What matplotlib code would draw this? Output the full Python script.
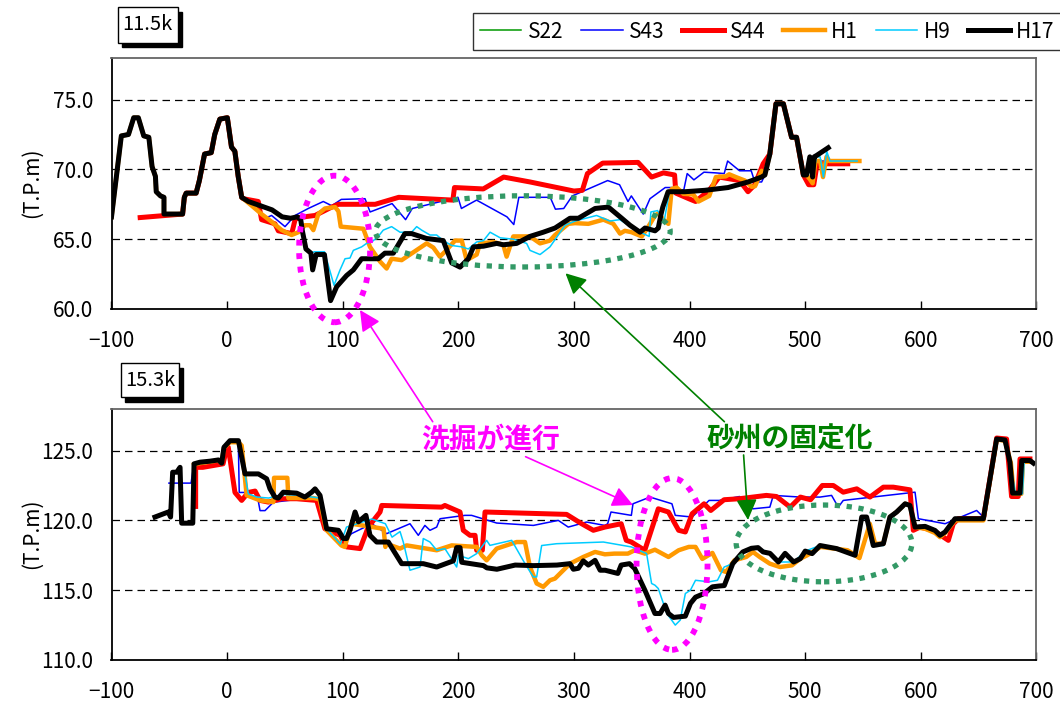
import matplotlib
matplotlib.use('Agg')
import matplotlib.pyplot as plt
from matplotlib.patches import Ellipse, FancyArrowPatch, Rectangle

plt.rcParams['font.family'] = ['Noto Sans CJK JP', 'DejaVu Sans']
plt.rcParams['axes.unicode_minus'] = True

# ---- 11.5k (上段) ----
# 左岸の共通部分
top_bank_x = [-100, -91.5, -85.3, -80.8, -76.8, -72.1, -67.7, -64.9, -62, -61.3, -57.6, -54.6, -54.6,
              -38.5, -37.0, -35.4, -26.8, -24, -19.5, -13.7, -10.7, -6.3, 0.2, 3.8, 6.7, 9.6, 12.6]
top_bank_y = [66.6, 72.4, 72.5, 73.7, 73.7, 72.4, 72.3, 70.2, 69.5, 68.4, 68.1, 68.0, 66.8,
              66.8, 68.0, 68.3, 68.3, 69.2, 71.1, 71.2, 72.5, 73.6, 73.7, 71.6, 71.3, 69.5, 68.0]
# 右岸の山
top_peak_x = [465.2, 469.5, 474.8, 481.2, 488.3, 492.6, 498.5]
top_peak_y = [69.6, 71.1, 74.7, 74.7, 72.3, 72.3, 69.6]

t_h17_mid_x = [18.4, 28.7, 38.9, 47.6, 54.9, 60.7, 63.7, 65.1, 68.2, 72.5, 74, 77, 84.2, 89.5, 94.8,
               103.4, 109.2, 116.4, 130.8, 136.5, 143.8, 153.8, 159.6, 172.6, 187.0, 194.3, 201.5,
               208.7, 213.1, 221.8, 233.2, 238.9, 250.5, 262.0, 273.5, 283.7, 296.6, 303.9, 318.3,
               329.8, 341.4, 348.5, 357.2, 361.5, 370.2, 373.0, 375.4, 376.9, 381.5, 395.9, 413.2,
               433.4, 450.7, 462.3]
t_h17_mid_y = [67.7, 67.4, 67.1, 66.6, 66.5, 66.6, 66.4, 65.6, 64.3, 64.0, 62.8, 63.9, 63.9, 60.6, 61.6,
               62.4, 62.8, 63.6, 63.6, 64.0, 64.0, 65.4, 65.4, 65.05, 64.9, 63.3, 63.0,
               63.6, 64.45, 64.5, 64.7, 64.6, 64.7, 65.2, 65.5, 65.8, 66.5, 66.5, 67.2,
               67.3, 66.5, 66.0, 65.5, 65.8, 65.6, 65.8, 66.8, 67.3, 68.4, 68.4, 68.5,
               68.7, 69.1, 69.45]
t_h17_end_x = [501.2, 504.1, 506.5, 507.9, 510, 520]
t_h17_end_y = [69.6, 70.9, 69.45, 70.9, 71.0, 71.55]

t_s44_mid_x = [14.0, 27.0, 29.8, 41.4, 44.3, 55.9, 58.8, 61.7, 76.1, 90.5, 96.3, 128.1, 148.5, 195.3,
               196.7, 221.6, 239.2, 262, 300, 307.3, 311.7, 324.9, 355.5, 367.2, 377.4, 387.1, 388.2,
               399.4, 405.3, 417, 425.7, 443.3, 450.6, 456.5, 463.7]
t_s44_mid_y = [67.9, 67.7, 66.4, 66.1, 65.6, 65.4, 66.4, 66.55, 66.7, 67.3, 67.5, 67.5, 68.0, 67.8,
               68.7, 68.6, 69.45, 69.1, 68.45, 68.5, 69.7, 70.45, 70.5, 69.45, 69.75, 69.6, 68.3,
               67.9, 67.7, 68.5, 69.45, 69.2, 68.4, 68.9, 70.4]
t_s44_end_x = [503.1, 507.5, 510.4, 536.9]
t_s44_end_y = [68.9, 68.9, 70.4, 70.4]

t_s43_mid_x = [15.4, 32.7, 38.5, 50.1, 58.8, 70.2, 83.2, 90.5, 98.8, 119.3, 123.7, 142.7, 154.4, 160.2,
               199.7, 202.7, 215.8, 242.1, 248, 252.4, 262, 279.5, 284, 291.2, 298.6, 329.2, 339.5,
               346.8, 349.7, 360, 365.8, 379, 384.9, 395, 398, 403.8, 412.5, 422.8, 430, 433, 443.3,
               453.4, 456.5, 462.4]
t_s43_mid_y = [67.9, 66.5, 66.7, 65.9, 66.7, 67.2, 67.7, 67.4, 67.85, 67.9, 66.95, 67.55, 66.4, 67.2,
               68.0, 67.2, 67.8, 66.6, 66.05, 68.0, 68.0, 68.0, 67.15, 67.2, 68.1, 69.2, 68.9,
               67.7, 68.1, 66.8, 67.9, 68.7, 68.7, 68.5, 69.7, 69.25, 69.8, 69.75, 69.7, 70.6, 69.9,
               69.9, 69.1, 69.1]
t_s43_end_x = [501.2, 504.1, 506.5, 510, 520]
t_s43_end_y = [69.6, 70.9, 69.5, 70.6, 70.6]

t_h1_mid_x = [21.3, 29.8, 38.5, 47.2, 55.8, 61.7, 67.4, 71.7, 74.6, 78.9, 84.6, 93.4, 96.3, 98.3,
              117.8, 123.6, 132.3, 138, 142.3, 151, 172.6, 178.4, 184.1, 188.4, 197.2, 203, 207.2,
              215.9, 218.8, 230.3, 238.9, 241.8, 247.6, 262, 270.7, 279.3, 283.7, 295.2, 301, 312.5,
              325.5, 334.1, 339.9, 344.1, 349.9, 358.7, 364.4, 370.2, 373.1, 377.4, 381.7, 384.6,
              388.9, 394.7, 403.3, 407.8, 417.1, 422.8, 431.4, 434.3, 440.1, 447.9, 453.8, 456.7, 462.5]
t_h1_mid_y = [67.4, 66.8, 66.25, 65.65, 65.3, 65.5, 66.0, 66.0, 65.65, 66.8, 67.2, 67.3, 67.0, 65.9,
              65.75, 64.45, 63.4, 62.9, 63.6, 63.5, 64.7, 64.4, 63.75, 64.1, 64.9, 64.9, 63.5,
              63.9, 64.7, 64.8, 64.6, 63.75, 65.2, 65.2, 64.7, 64.9, 65.3, 66.1, 66.15, 66.1,
              66.4, 66.1, 65.4, 65.6, 65.5, 65.2, 65.9, 66.7, 66.85, 66.4, 66.1, 68.6,
              68.7, 68.25, 68.2, 67.7, 68.1, 69.45, 69.5, 69.65, 69.45, 69.2, 68.75, 68.8, 69.9]
t_h1_end_x = [501.2, 504.1, 506.5, 509, 513, 515.5, 518.5, 521, 547]
t_h1_end_y = [69.6, 69.3, 69.0, 70.6, 70.6, 69.45, 70.9, 70.6, 70.6]

t_h9_mid_x = [75.5, 84.2, 92.5, 97.7, 102, 106.3, 109.2, 116.4, 120.7, 125.1, 130.8, 135.1, 142.3,
              149.6, 159.6, 164, 168.3, 175.5, 181.3, 187, 194.3, 203, 208.7, 215.9, 221.8, 227.5,
              236.2, 247.7, 259.1, 262, 270.7, 279.3, 292.4, 301, 319.6, 331.1, 339.8, 353.6, 365.1,
              366.6, 372.4, 378.1, 382.4, 395.9, 413.2, 433.4, 450.7, 462.3]
t_h9_mid_y = [64.1, 64.1, 61.7, 62.8, 63.6, 63.65, 64.2, 64.45, 64.7, 64.8, 65.2, 65.65, 65.9,
              65.5, 65.5, 65.9, 65.65, 65.3, 65.3, 64.9, 64.55, 64.45, 64.3, 64.8, 64.9, 65.5,
              65.1, 65.0, 64.7, 64.2, 63.9, 64.45, 66.0, 66.3, 66.7, 66.3, 66.4, 65.65, 65.2,
              66.95, 67.05, 66.3, 68.3, 68.4, 68.5, 68.7, 69.1, 69.45]
t_h9_end_x = [501.2, 504.1, 506.5, 509.9, 513, 515.8, 518.7, 521.5, 545]
t_h9_end_y = [69.6, 70.9, 69.5, 70.9, 70.9, 69.45, 71.3, 70.6, 70.6]

# ---- 15.3k (下段) ----
b_h17_x = [-62.4, -50.9, -48.9, -47.1, -43.6, -40.7, -39.3, -29.7, -28.6, -23.4, -14.8, -7.5, -4.7, -2.7,
           2.5, 9.8, 15.5, 27.1, 34.2, 37.1, 41.4, 44.3, 48.6, 60.2, 67.3, 73.2, 76.1, 80.4, 86.1,
           96.3, 100.5, 103.4, 106.3, 110.7, 113.6, 120.1, 123.6, 129.4, 139.5, 143.8, 151, 169.7,
           181.3, 195.7, 198.6, 201.5, 203, 221.8, 224.7, 233.4, 249.2, 265.1, 285.3, 296.6, 299.5,
           303.9, 308.1, 312.5, 318.3, 322.7, 327, 338, 340.9, 348.1, 352.6, 361.4, 370.1, 374.6,
           378.9, 381.8, 386.2, 396.4, 400.8, 405.2, 412.6, 419.8, 425.7, 430.1, 437.4, 446.1, 453.5,
           459.3, 463.7, 469.6, 476.9, 482.7, 490.1, 495.9, 500.1, 506.1, 512.9, 527.3, 543.2, 549,
           553.2, 559, 567.7, 573.4, 579.2, 586.5, 590.7, 595.1, 603.8, 612.4, 616.7, 621.1, 629.7,
           654.2, 665.7, 672.9, 677.2, 679.5, 685.9, 687.4, 694.5, 697.5]
b_h17_y = [120.24, 120.6, 120.24, 123.45, 123.45, 123.8, 119.8, 119.8, 124.05, 124.17, 124.24, 124.33,
           124.1, 125.24, 125.71, 125.71, 123.33, 123.33, 122.98, 122.26, 121.67, 121.6, 122.02, 121.95,
           121.67, 122.02, 122.26, 121.79, 119.4, 119.29, 118.7, 118.7, 119.29, 120.6, 119.9, 120.36,
           118.93, 118.45, 118.45, 117.86, 116.9, 116.9, 116.66, 117.1, 118.05, 118.05, 117.0, 116.76,
           116.6, 116.5, 116.8, 116.76, 116.8, 116.9, 116.5, 116.57, 117.1, 116.8, 117.14, 116.43,
           116.43, 116.2, 116.8, 116.9, 116.55, 115.0, 113.33, 113.33, 113.93, 113.33, 113.05, 113.14,
           114.05, 114.5, 114.76, 115.24, 115.3, 115.33, 116.9, 117.74, 118.0, 118.05, 117.74, 117.64,
           117.02, 117.64, 117.02, 117.26, 117.8, 117.62, 118.2, 117.98, 117.5, 120.24, 120.24, 118.2,
           118.33, 120.24, 120.6, 121.19, 121.07, 119.52, 119.57, 119.28, 118.93, 119.17, 120.12,
           120.12, 125.83, 125.76, 124.17, 121.95, 121.95, 124.29, 124.29, 124.1]

b_s44_x = [-27.2, -27.2, -21, -3.5, 0, 1.0, 6.8, 12.6, 18.3, 24.2, 28.5, 35.7, 47.2, 60.2, 77.5, 84.6,
           97.7, 103.4, 115, 122.1, 132.3, 133.8, 185.6, 188.4, 201.5, 204.3, 210.1, 214.5, 215.9,
           220.8, 223.1, 293.7, 306.7, 316.8, 326.8, 340.9, 345.3, 349.7, 361.3, 373, 381.8, 390.6,
           396.4, 402.3, 412.6, 418.4, 429.9, 443.1, 466.5, 475.3, 487.1, 495.9, 504.7, 514.9, 524.4,
           533, 544.7, 556.1, 567.7, 576.3, 590.7, 593.6, 599.4, 610.9, 623.9, 628.2, 632.6, 654.2,
           665.7, 674.3, 678.6, 684.4, 685.9, 694.5]
b_s44_y = [121.0, 123.8, 123.8, 124.05, 125.3, 125.24, 122.0, 121.43, 122.0, 122.1, 121.43, 121.31,
           121.55, 121.55, 121.43, 119.4, 118.93, 118.1, 117.98, 119.52, 120.6, 121.07, 120.95, 121.07,
           120.6, 119.29, 118.93, 118.93, 117.86, 117.86, 120.6, 120.43, 119.76, 119.29, 119.52, 119.76,
           118.57, 118.45, 117.86, 120.83, 120.6, 119.29, 119.17, 120.48, 121.19, 120.71, 121.48,
           121.55, 121.79, 121.71, 120.95, 121.67, 121.48, 122.5, 122.5, 122.02, 122.26, 121.67,
           122.38, 122.38, 122.19, 119.29, 119.52, 119.29, 118.57, 119.76, 120.12, 120.12, 125.9,
           125.83, 121.71, 121.71, 124.4, 124.4]

b_s43_x = [-50.3, -31.2, -28.6, -23.4, -14.8, -7.5, -4.7, -2.7, 2.5, 9.7, 10.5, 25.6, 28.5, 32.8, 40,
           60.2, 80.4, 86, 98.8, 101.8, 107.6, 125.2, 138, 158.2, 165.4, 171.1, 175.5, 181.3, 184.2,
           205.7, 211.5, 233.2, 264.9, 286.5, 295.1, 310.9, 326.8, 329.2, 332.1, 349.7, 351.1, 365.8,
           384.8, 387.7, 402.3, 416.9, 425.7, 443.3, 454.9, 469.5, 472.5, 495.9, 512.9, 522.9, 528.7,
           533, 595.1, 598, 621.1, 631.1, 648.4, 655.7, 665.7, 672.9, 677.2, 679.5, 685.9, 687.4, 694.5]
b_s43_y = [122.67, 122.67, 124.05, 124.17, 124.24, 124.33, 124.1, 125.24, 125.6, 125.6, 122.0, 122.0,
           120.7, 120.7, 121.3, 121.5, 121.45, 119.4, 119.05, 118.45, 119.05, 119.76, 119.05, 119.76,
           118.93, 119.64, 119.29, 119.52, 120.12, 120.36, 120.36, 119.81, 119.64, 120.0, 119.52,
           119.88, 119.64, 119.76, 120.6, 120.36, 121.19, 121.67, 121.19, 120.36, 120.24, 121.43,
           121.43, 121.71, 120.83, 120.95, 121.79, 121.67, 121.67, 121.79, 120.95, 121.43, 122.02,
           120.12, 119.76, 120.12, 120.71, 120.12, 125.83, 125.76, 124.17, 121.95, 121.95, 124.29, 124.29]

b_h1_x = [-28.6, -23.4, -14.8, -7.5, -4.7, -2.7, 2.5, 9.8, 12.6, 16.9, 28.5, 40, 40.6, 52.1, 53, 75, 80,
          85.7, 98.9, 101.8, 107.6, 135.4, 136.9, 138, 149.6, 155.3, 181.3, 194.3, 215.9, 220.3, 224.5,
          233.2, 250.5, 257.7, 262, 267.8, 273.5, 279.3, 283.6, 289.4, 296.6, 308.1, 318.3, 326.8, 335,
          346.7, 352.6, 361.4, 370.1, 381.8, 390.6, 399.4, 405.2, 411.1, 419.8, 427.2, 431.5, 438.9,
          449.1, 454.9, 460.7, 469.5, 478.3, 488.6, 495.9, 501.8, 513.4, 536.8, 547, 556, 560.5, 567.7,
          573.4, 579.2, 586.5, 590.7, 595.1, 603.8, 612.4, 616.7, 621.1, 629.7, 654.2, 665.7, 672.9,
          678, 680.5, 687, 688.5, 695]
b_h1_y = [124.0, 124.1, 124.2, 124.3, 124.1, 125.2, 125.6, 125.6, 125.36, 121.8, 121.43, 121.31, 123.05,
          123.05, 121.6, 121.6, 121.5, 119.33, 118.2, 118.1, 119.76, 119.4, 118.1, 118.33, 117.98,
          118.21, 117.86, 118.21, 118.1, 117.5, 117.14, 117.98, 118.45, 118.45, 116.66, 115.48, 115.24,
          115.71, 115.83, 116.31, 116.9, 117.38, 117.74, 117.57, 117.62, 117.62, 117.86, 117.62, 117.9,
          117.38, 117.86, 118.1, 118.1, 117.24, 117.67, 116.43, 116.31, 117.14, 117.38, 117.74, 117.38,
          116.9, 116.66, 116.78, 117.26, 117.5, 118.1, 117.86, 117.3, 119.76, 118.33, 118.33, 120.24,
          120.6, 121.19, 121.07, 119.52, 119.4, 119.1, 118.8, 119.1, 120.0, 120.0, 125.8, 125.7, 124.1,
          121.9, 121.9, 124.2, 124.2]

b_h9_x = [-28.6, -23.4, -14.8, -7.5, -4.7, -2.7, 2.5, 9.8, 14, 18.4, 25.8, 36, 48, 62, 80, 86, 98, 103.3,
          125.2, 136.9, 142.7, 149.6, 152.4, 158.2, 166.9, 169.7, 175.5, 181.3, 188.4, 198.6, 200.1,
          208.7, 215.9, 224.5, 227.4, 246.2, 257.7, 264.9, 267.8, 272.1, 285.1, 325.5, 349.7, 362.9,
          367.2, 370.1, 373, 380.4, 387.7, 392, 396.4, 400.8, 405.2, 416.9, 424.2, 430, 437.4, 446.1,
          453.5, 459.3, 469.6, 476.9, 490.1, 500.1, 512.9, 527.3, 543.2, 549, 553.2, 559, 567.7, 573.4,
          579.2, 586.5, 590.7, 595.1, 603.8, 612.4, 616.7, 621.1, 629.7, 654.2, 665.7, 672.9, 677.5,
          682, 688, 689.5, 695.5]
b_h9_y = [124.0, 124.1, 124.2, 124.3, 124.1, 125.2, 125.6, 125.6, 124.0, 121.9, 121.67, 121.6, 121.86,
          121.8, 121.6, 119.4, 118.3, 119.52, 120.1, 119.76, 118.8, 119.2, 118.45, 116.43, 116.66, 118.7,
          118.45, 117.86, 117.98, 116.66, 117.5, 117.26, 117.62, 118.57, 118.21, 118.57, 116.9, 115.95,
          115.95, 118.2, 118.33, 118.45, 118.1, 117.62, 115.48, 115.36, 115.12, 113.33, 112.5, 112.86,
          114.76, 115.0, 115.71, 115.6, 115.71, 116.66, 116.9, 117.74, 118.0, 118.05, 117.64, 117.02,
          117.02, 117.8, 118.2, 117.98, 117.5, 120.1, 120.1, 118.2, 118.2, 120.24, 120.6, 121.19,
          121.07, 119.52, 119.5, 119.2, 118.9, 119.1, 120.1, 120.1, 125.8, 125.7, 124.1, 121.9, 121.9,
          124.2, 124.2]

b_s22_x = [629.7, 654.2, 665.7, 672.9, 677.2, 679.5, 685.9, 687.4, 694.5]
b_s22_y = [120.12, 120.12, 125.83, 125.76, 124.17, 121.95, 121.95, 124.29, 124.29]

names = ['S22', 'S43', 'S44', 'H1', 'H9', 'H17']
colors = ['#009900', '#0000FF', '#FF0000', '#FF9900', '#00CCFF', '#000000']
widths = [1.1, 1.1, 3.6, 3.2, 1.1, 3.6]

top = {
    'S22': (top_bank_x, top_bank_y),
    'S43': (top_bank_x[13:] + t_s43_mid_x + top_peak_x + t_s43_end_x,
            top_bank_y[13:] + t_s43_mid_y + top_peak_y + t_s43_end_y),
    'S44': ([-75.2] + top_bank_x[13:] + t_s44_mid_x + top_peak_x[1:] + t_s44_end_x,
            [66.55] + top_bank_y[13:] + t_s44_mid_y + top_peak_y[1:] + t_s44_end_y),
    'H1': (top_bank_x + t_h1_mid_x + top_peak_x + t_h1_end_x,
           top_bank_y + t_h1_mid_y + top_peak_y + t_h1_end_y),
    'H9': (top_bank_x + t_h17_mid_x[:10] + t_h9_mid_x + top_peak_x + t_h9_end_x,
           top_bank_y + t_h17_mid_y[:10] + t_h9_mid_y + top_peak_y + t_h9_end_y),
    'H17': (top_bank_x + t_h17_mid_x + top_peak_x + t_h17_end_x,
            top_bank_y + t_h17_mid_y + top_peak_y + t_h17_end_y),
}
bottom = {
    'S22': (b_s22_x, b_s22_y),
    'S43': (b_s43_x, b_s43_y),
    'S44': (b_s44_x, b_s44_y),
    'H1': (b_h1_x, b_h1_y),
    'H9': (b_h9_x, b_h9_y),
    'H17': (b_h17_x, b_h17_y),
}

W, H = 1060, 704
def fx(px):
    return px / W
def fy(py):
    return 1 - py / H

fig = plt.figure(figsize=(10.6, 7.04), dpi=100)
axw = (1036.3 - 111.5) / W
axh = (309 - 57.7) / H
ax1 = fig.add_axes([fx(111.5), fy(309), axw, axh])
ax2 = fig.add_axes([fx(111.5), fy(660), axw, axh])


def style(ax, ylo, yhi, yt):
    ax.set_xlim(-100, 700)
    ax.set_ylim(ylo, yhi)
    ax.set_xticks(range(-100, 701, 100))
    ax.set_yticks(yt)
    ax.set_yticklabels(['%.1f' % v for v in yt])
    for v in yt[1:]:
        ax.axhline(v, color='black', lw=0.9, ls=(0, (6, 4)), zorder=0)
    ax.tick_params(axis='x', direction='in', length=5.5, width=1, pad=15, labelsize=15)
    ax.tick_params(axis='y', length=0, pad=13, labelsize=15)
    for s in ['left', 'bottom']:
        ax.spines[s].set_color('black')
        ax.spines[s].set_linewidth(1.3)
    for s in ['top', 'right']:
        ax.spines[s].set_color('#666666')
        ax.spines[s].set_linewidth(1.3)


for ax, data in [(ax1, top), (ax2, bottom)]:
    for n, c, w in zip(names, colors, widths):
        ax.plot(data[n][0], data[n][1], color=c, lw=w, label=n)

style(ax1, 60, 78, [60, 65, 70, 75])
style(ax2, 110, 128, [110, 115, 120, 125])

leg = ax1.legend(loc='upper right', bbox_to_anchor=(fx(1062), fy(13.3)), bbox_transform=fig.transFigure,
                 ncol=6, fontsize=15, frameon=True, fancybox=False, edgecolor='black',
                 borderaxespad=0, borderpad=0.35, handlelength=2.0, handletextpad=0.3,
                 columnspacing=0.85)
leg.get_frame().set_linewidth(1.0)

# y軸ラベル
for yc in [183, 534]:
    fig.text(fx(32), fy(yc), '(T.P.m)', rotation=90, ha='center', va='center', fontsize=15)


# 断面名の箱（影付き）
def boxlabel(x0, y0, x1, y1, s):
    fig.add_artist(Rectangle((fx(x0 + 4), fy(y1 + 4.5)), (x1 - x0) / W, (y1 - y0) / H,
                             transform=fig.transFigure, fc='black', ec='black', lw=1))
    fig.add_artist(Rectangle((fx(x0), fy(y1)), (x1 - x0) / W, (y1 - y0) / H,
                             transform=fig.transFigure, fc='white', ec='black', lw=1))
    fig.text(fx((x0 + x1) / 2), fy((y0 + y1) / 2), s, ha='center', va='center', fontsize=14.5,
             color='black')

boxlabel(117.6, 7.3, 177.5, 42.7, '11.5k')
boxlabel(120.7, 363.3, 179.1, 397.3, '15.3k')

# 点線の楕円
mag = '#FF00FF'
grn = '#339966'
ax1.add_patch(Ellipse((93.0, 64.3), 61.4, 10.5, fill=False, ec=mag, lw=4.2,
                      ls=(0, (1, 1.3)), clip_on=False, zorder=6))
ax1.add_patch(Ellipse((255.8, 65.56), 255, 5.1, fill=False, ec=grn, lw=3.8,
                      ls=(0, (1, 1.25)), clip_on=False, zorder=6))
ax2.add_patch(Ellipse((384.9, 116.88), 61.4, 12.3, fill=False, ec=mag, lw=4.2,
                      ls=(0, (1, 1.3)), clip_on=False, zorder=6))
ax2.add_patch(Ellipse((516.4, 118.35), 152, 5.5, fill=False, ec=grn, lw=3.8,
                      ls=(0, (1, 1.25)), clip_on=False, zorder=6))

# 注記
fig.text(fx(491), fy(440), '洗掘が進行', color=mag, fontsize=20, fontweight='bold',
         ha='center', va='center')
fig.text(fx(789.5), fy(440), '砂州の固定化', color='#008000', fontsize=20, fontweight='bold',
         ha='center', va='center')


def arrow(p0, p1, color):
    a = FancyArrowPatch((fx(p0[0]), fy(p0[1])), (fx(p1[0]), fy(p1[1])), transform=fig.transFigure,
                        arrowstyle='-|>,head_length=0.9,head_width=0.45', mutation_scale=14,
                        color=color, lw=1.2, shrinkA=0, shrinkB=0)
    fig.add_artist(a)

arrow((432.7, 421.7), (360, 310), mag)
arrow((525.6, 456.7), (633, 505), mag)
arrow((724.4, 421.7), (565.5, 273.3), '#008000')
arrow((743.6, 455), (748, 520), '#008000')

fig.savefig('out.png', dpi=100)
